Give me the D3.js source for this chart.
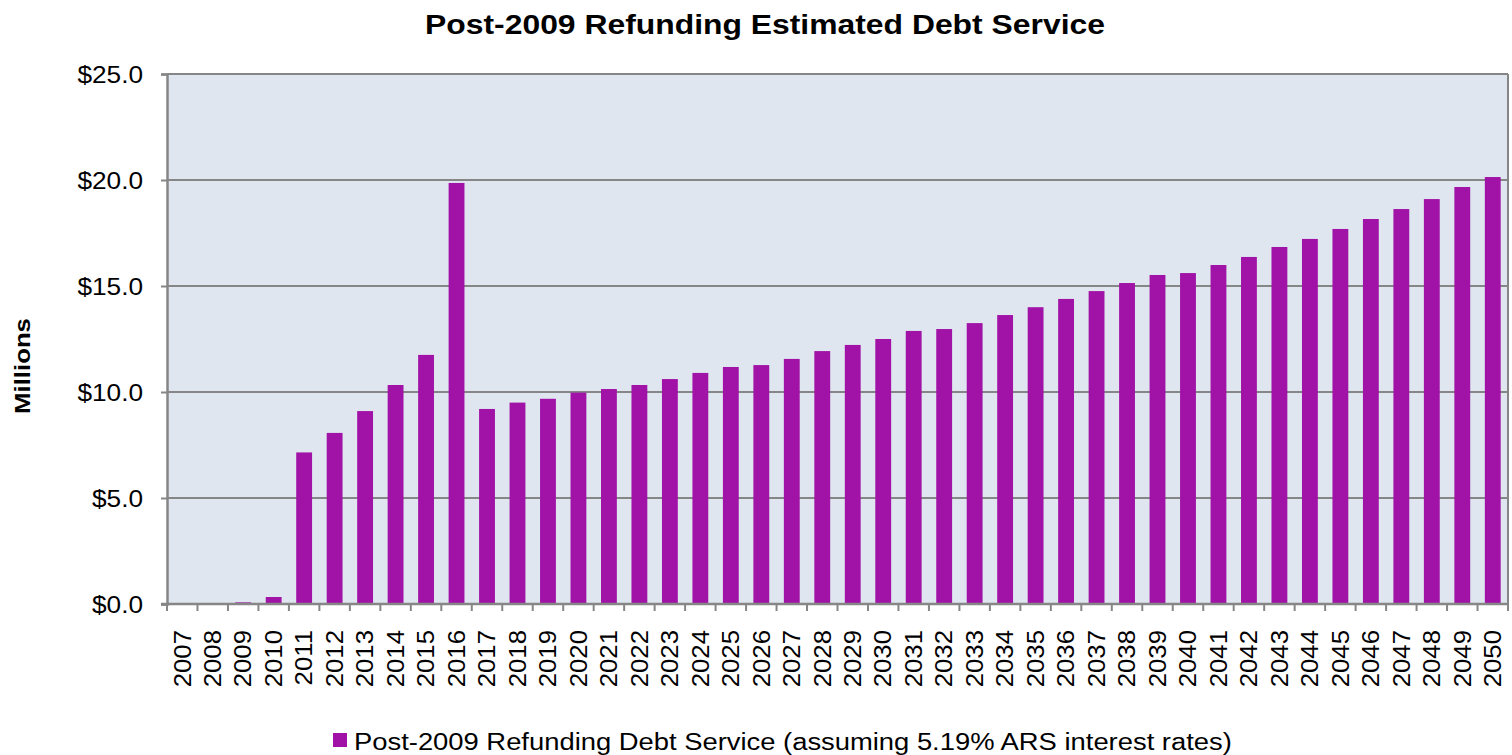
<!DOCTYPE html>
<html>
<head>
<meta charset="utf-8">
<script src="https://cdn.jsdelivr.net/npm/d3@7"></script>
<style>
  body { margin: 0; background: #fff; }
  text { font-family: "Liberation Sans", Arial, sans-serif; fill: #000; }
</style>
</head>
<body>
<div id="chart"></div>
<script>
const years = [2007, 2008, 2009, 2010, 2011, 2012, 2013, 2014, 2015, 2016, 2017, 2018, 2019, 2020, 2021,
  2022, 2023, 2024, 2025, 2026, 2027, 2028, 2029, 2030, 2031, 2032, 2033, 2034, 2035, 2036, 2037,
  2038, 2039, 2040, 2041, 2042, 2043, 2044, 2045, 2046, 2047, 2048, 2049, 2050];
const debtService = [0, 0, 0.08, 0.33, 7.15, 8.07, 9.1, 10.33, 11.75, 19.86, 9.2, 9.5, 9.68, 9.97, 10.14,
  10.33, 10.61, 10.9, 11.18, 11.27, 11.56, 11.93, 12.22, 12.5, 12.88, 12.97, 13.25, 13.63, 14.0, 14.39, 14.76,
  15.14, 15.52, 15.61, 15.99, 16.37, 16.84, 17.22, 17.69, 18.16, 18.63, 19.1, 19.67, 20.14];
const yTicks = [0, 5, 10, 15, 20, 25];
const chartTitle = "Post-2009 Refunding Estimated Debt Service";
const seriesName = "Post-2009 Refunding Debt Service (assuming 5.19% ARS interest rates)";
const yTitle = "Millions";

const width = 1512, height = 755;
const plot = { left: 167, right: 1508, top: 74, bottom: 604 };
const barColor = "#a113a7";
const axisColor = "#868686";

const svg = d3.select("#chart").append("svg")
  .attr("width", width)
  .attr("height", height);

// the source renders its text a little wider than Arial, so stretch it
function widen(sel, factor) {
  sel.each(function () {
    const len = this.getComputedTextLength();
    d3.select(this)
      .attr("textLength", len * factor)
      .attr("lengthAdjust", "spacingAndGlyphs");
  });
}

const x = d3.scaleBand()
  .domain(years)
  .range([plot.left, plot.right])
  .paddingInner(0.48)
  .paddingOuter(0.24);

// bands without padding, for the category boundary ticks
const xOuter = d3.scaleBand()
  .domain(years)
  .range([plot.left, plot.right]);

const y = d3.scaleLinear()
  .domain([0, 25])
  .range([plot.bottom, plot.top]);

// plot background
svg.append("rect")
  .attr("x", plot.left)
  .attr("y", plot.top)
  .attr("width", plot.right - plot.left)
  .attr("height", plot.bottom - plot.top)
  .attr("fill", "#dfe6f0");

// gridlines
svg.append("g")
  .selectAll("line")
  .data(yTicks.filter(d => d > 0))
  .enter().append("line")
    .attr("x1", plot.left)
    .attr("x2", plot.right)
    .attr("y1", d => y(d))
    .attr("y2", d => y(d))
    .attr("stroke", axisColor)
    .attr("stroke-width", 2);

// right border
svg.append("line")
  .attr("x1", plot.right).attr("x2", plot.right)
  .attr("y1", plot.top).attr("y2", plot.bottom)
  .attr("stroke", axisColor).attr("stroke-width", 2);

// bars
svg.append("g")
  .selectAll("rect")
  .data(years.map((yr, i) => ({ year: yr, value: debtService[i] })))
  .enter().append("rect")
    .attr("x", d => x(d.year))
    .attr("width", x.bandwidth())
    .attr("y", d => y(d.value))
    .attr("height", d => y(0) - y(d.value))
    .attr("fill", barColor);

// y axis
const yAxis = svg.append("g")
  .attr("transform", "translate(" + plot.left + ",0)")
  .call(d3.axisLeft(y)
    .tickValues(yTicks)
    .tickSize(6)
    .tickPadding(18)
    .tickFormat(d => "$" + d3.format(".1f")(d)));
yAxis.select(".domain").attr("stroke", axisColor).attr("stroke-width", 2.5);
yAxis.selectAll(".tick line").attr("stroke", axisColor).attr("stroke-width", 2);
yAxis.selectAll(".tick text")
  .attr("font-size", 23)
  .attr("font-family", "Liberation Sans, Arial, sans-serif")
  .attr("fill", "#000")
  .attr("dy", "0.36em")
  .call(widen, 1.14);

// x axis
const xAxis = svg.append("g")
  .attr("transform", "translate(0," + plot.bottom + ")");
xAxis.append("line")
  .attr("x1", plot.left - 6).attr("x2", plot.right)
  .attr("stroke", axisColor).attr("stroke-width", 2.5);
xAxis.selectAll(".bound")
  .data(years.map(d => xOuter(d)).concat([plot.right]))
  .enter().append("line")
    .attr("class", "bound")
    .attr("x1", d => d).attr("x2", d => d)
    .attr("y1", 0).attr("y2", 7)
    .attr("stroke", axisColor).attr("stroke-width", 2);
xAxis.selectAll(".lbl")
  .data(years)
  .enter().append("text")
    .attr("class", "lbl")
    .attr("transform", d => "translate(" + (xOuter(d) + xOuter.bandwidth() / 2) + ",26) rotate(-90)")
    .attr("text-anchor", "end")
    .attr("dy", "0.36em")
    .attr("font-size", 23)
    .text(d => d)
    .call(widen, 1.12);

// title
svg.append("text")
  .attr("x", 765)
  .attr("y", 34)
  .attr("text-anchor", "middle")
  .attr("font-size", 27)
  .attr("font-weight", "bold")
  .text(chartTitle)
  .call(widen, 1.18);

// y axis title
svg.append("text")
  .attr("transform", "translate(30,366) rotate(-90)")
  .attr("text-anchor", "middle")
  .attr("font-size", 22)
  .attr("font-weight", "bold")
  .text(yTitle)
  .call(widen, 1.17);

// legend
const legend = svg.append("g").attr("transform", "translate(333,733)");
legend.append("rect")
  .attr("width", 14).attr("height", 14)
  .attr("fill", barColor);
legend.append("text")
  .attr("x", 21)
  .attr("y", 17)
  .attr("font-size", 23)
  .text(seriesName)
  .call(widen, 1.19);
</script>
</body>
</html>
